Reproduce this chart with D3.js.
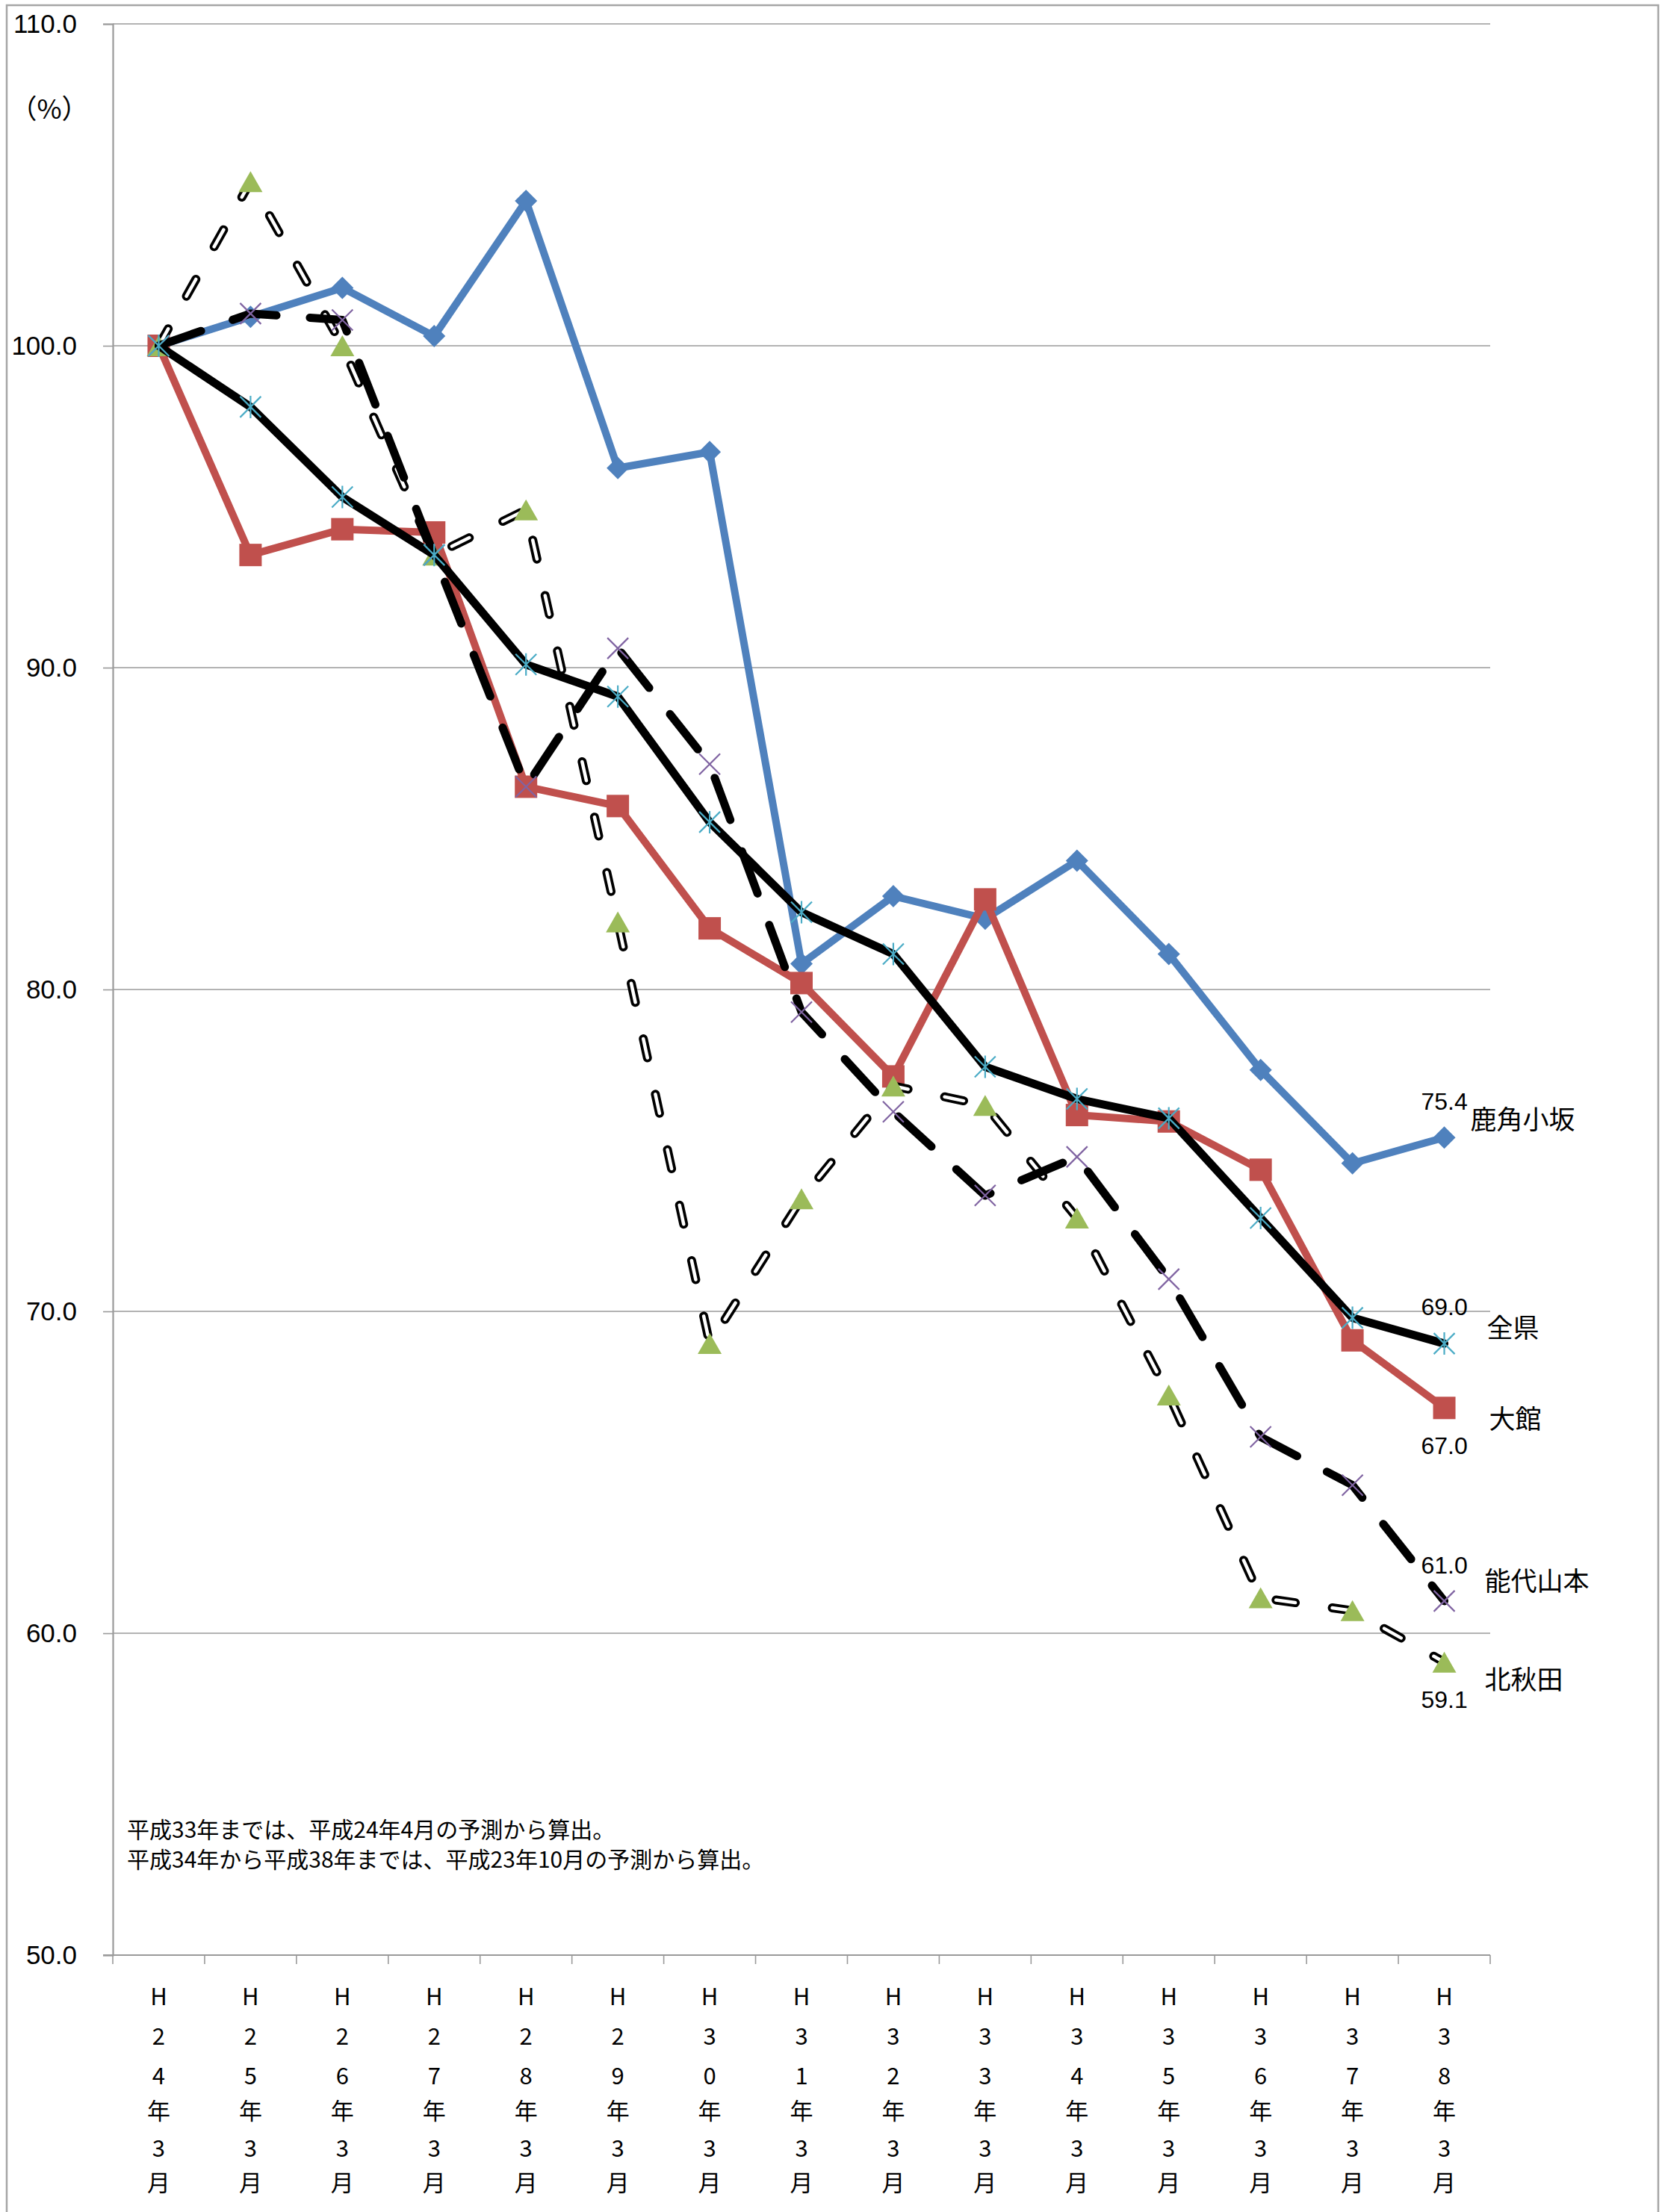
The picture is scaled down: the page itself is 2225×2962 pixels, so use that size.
<!DOCTYPE html>
<html>
<head>
<meta charset="utf-8">
<script src="https://cdn.jsdelivr.net/npm/d3@7/dist/d3.min.js"></script>
<style>
  body { margin: 0; background: #fff; }
  svg { display: block; }
</style>
</head>
<body>
<svg id="chart"></svg>
<script>
// ---- data ----
const categories = ["H24年3月", "H25年3月", "H26年3月", "H27年3月", "H28年3月", "H29年3月", "H30年3月",
  "H31年3月", "H32年3月", "H33年3月", "H34年3月", "H35年3月", "H36年3月", "H37年3月", "H38年3月"];

const kazunoKosaka = [100, 100.9, 101.8, 100.3, 104.5, 96.2, 96.7, 80.8, 82.9, 82.2, 84.0, 81.1, 77.5, 74.6, 75.4];
const odate        = [100, 93.5, 94.3, 94.2, 86.3, 85.7, 81.9, 80.2, 77.3, 82.8, 76.1, 75.9, 74.4, 69.1, 67.0];
const kitaAkita    = [100, 105.1, 100.0, 93.5, 94.9, 82.1, 69.0, 73.5, 77.0, 76.4, 72.9, 67.4, 61.1, 60.7, 59.1];
const noshiroYamamoto = [100, 101.0, 100.8, 93.5, 86.3, 90.6, 87.0, 79.3, 76.2, 73.6, 74.8, 71.0, 66.1, 64.6, 61.0];
const zenken       = [100, 98.1, 95.3, 93.5, 90.1, 89.1, 85.2, 82.4, 81.1, 77.6, 76.6, 76.0, 72.9, 69.8, 69.0];

const yTicks = [50, 60, 70, 80, 90, 100, 110];
const unitLabel = "（%）";
const notes = [
  "平成33年までは、平成24年4月の予測から算出。",
  "平成34年から平成38年までは、平成23年10月の予測から算出。"
];

// ---- layout ----
const W = 2225, H = 2962;
const plot = { left: 151, right: 1995, top: 32, bottom: 2618 };

const svg = d3.select("#chart").attr("width", W).attr("height", H);

// outer chart frame
svg.append("rect")
  .attr("x", 9).attr("y", 7).attr("width", 2211).attr("height", 2990)
  .attr("fill", "#fff").attr("stroke", "#a6a6a6").attr("stroke-width", 2.5);

const x = d3.scaleBand().domain(categories).range([plot.left, plot.right]);
const cx = c => x(c) + x.bandwidth() / 2;
const y = d3.scaleLinear().domain([50, 110]).range([plot.bottom, plot.top]);

// horizontal gridlines
svg.append("g").selectAll("line")
  .data(yTicks.filter(t => t !== 50))
  .join("line")
  .attr("x1", plot.left).attr("x2", plot.right)
  .attr("y1", d => y(d)).attr("y2", d => y(d))
  .attr("stroke", "#9a9a9a").attr("stroke-width", 1.6);

// y axis
const yAxis = svg.append("g")
  .attr("transform", `translate(${plot.left},0)`)
  .call(d3.axisLeft(y).tickValues(yTicks).tickFormat(d3.format(".1f")).tickSize(13).tickPadding(35));
yAxis.select(".domain").attr("stroke", "#9a9a9a").attr("stroke-width", 2.2);
yAxis.selectAll(".tick line").attr("stroke", "#9a9a9a").attr("stroke-width", 1.6);
yAxis.selectAll(".tick text")
  .attr("font-family", "'Liberation Sans', Arial, sans-serif")
  .attr("font-size", 35).attr("fill", "#000");

// x axis line and category boundary ticks
const xg = svg.append("g");
xg.append("line")
  .attr("x1", plot.left - 13).attr("x2", plot.right)
  .attr("y1", plot.bottom).attr("y2", plot.bottom)
  .attr("stroke", "#9a9a9a").attr("stroke-width", 2.2);
const boundaries = categories.map(c => x(c)).concat([x.range()[1]]);
xg.selectAll("line.tick")
  .data(boundaries)
  .join("line").attr("class", "tick")
  .attr("x1", d => d).attr("x2", d => d)
  .attr("y1", plot.bottom).attr("y2", plot.bottom + 12)
  .attr("stroke", "#9a9a9a").attr("stroke-width", 1.6);

// stacked (vertical) category labels
const rowY = [2674, 2727, 2780, 2827, 2877, 2923];
const xl = xg.selectAll("g.cat").data(categories).join("g").attr("class", "cat");
xl.each(function (c) {
  const chars = Array.from(c);
  d3.select(this).selectAll("text")
    .data(chars)
    .join("text")
    .attr("x", cx(c))
    .attr("y", (d, i) => rowY[i])
    .attr("dy", "0.35em")
    .attr("text-anchor", "middle")
    .attr("font-family", "'Noto Sans CJK JP', sans-serif")
    .attr("font-size", 31)
    .attr("fill", "#000")
    .text(d => d);
});

// unit label
svg.append("text")
  .attr("x", 66).attr("y", 146).attr("dy", "0.35em")
  .attr("text-anchor", "middle")
  .attr("font-family", "'Noto Sans CJK JP', sans-serif")
  .attr("font-size", 36).attr("fill", "#000")
  .text(unitLabel);

// notes
svg.append("g").selectAll("text")
  .data(notes)
  .join("text")
  .attr("x", 170)
  .attr("y", (d, i) => 2450 + i * 40)
  .attr("dy", "0.35em")
  .attr("font-family", "'Noto Sans CJK JP', sans-serif")
  .attr("font-size", 30)
  .attr("fill", "#000")
  .text(d => d);

// ---- marker shapes ----
const markers = {
  diamond: (g, color) => g.append("path")
    .attr("d", "M0,-15 L15,0 L0,15 L-15,0 Z").attr("fill", color),
  square: (g, color) => g.append("rect")
    .attr("x", -15).attr("y", -15).attr("width", 30).attr("height", 30).attr("fill", color),
  triangle: (g, color) => g.append("path")
    .attr("d", "M0,-14 L16,14 L-16,14 Z").attr("fill", color),
  star: (g, color) => g.append("path")
    .attr("d", "M-14,-14 L14,14 M-14,14 L14,-14 M0,-15 L0,15")
    .attr("stroke", color).attr("stroke-width", 2.2).attr("fill", "none"),
  cross: (g, color) => g.append("path")
    .attr("d", "M-14,-14 L14,14 M-14,14 L14,-14")
    .attr("stroke", color).attr("stroke-width", 2.2).attr("fill", "none")
};

// ---- series ----
const series = [
  { name: "鹿角小坂", values: kazunoKosaka, line: "#4f81bd", style: "solid", width: 10,
    marker: "diamond", markerColor: "#4f81bd", valueDy: -48, nameDx: 35, nameDy: -24 },
  { name: "大館", values: odate, line: "#c0504d", style: "solid", width: 10,
    marker: "square", markerColor: "#c0504d", valueDy: 50, nameDx: 60, nameDy: 15 },
  { name: "北秋田", values: kitaAkita, line: "#000", style: "double", width: 11,
    marker: "triangle", markerColor: "#9bbb59", valueDy: 50, nameDx: 54, nameDy: 24 },
  { name: "能代山本", values: noshiroYamamoto, line: "#000", style: "longdash", width: 11,
    marker: "cross", markerColor: "#8064a2", valueDy: -48, nameDx: 54, nameDy: -26 },
  { name: "全県", values: zenken, line: "#000", style: "solid", width: 11,
    marker: "star", markerColor: "#4bacc6", valueDy: -49, nameDx: 57, nameDy: -20 }
];

const lineGen = d3.line()
  .x((d, i) => cx(categories[i]))
  .y(d => y(d));

const layer = svg.append("g");
series.forEach(s => {
  const g = layer.append("g");
  const d = lineGen(s.values);
  if (s.style === "solid") {
    g.append("path").attr("d", d).attr("fill", "none")
      .attr("stroke", s.line).attr("stroke-width", s.width)
      .attr("stroke-linejoin", "round").attr("stroke-linecap", "round");
  } else if (s.style === "longdash") {
    g.append("path").attr("d", d).attr("fill", "none")
      .attr("stroke", s.line).attr("stroke-width", s.width)
      .attr("stroke-linejoin", "round").attr("stroke-linecap", "round")
      .attr("stroke-dasharray", "60 45");
  } else if (s.style === "double") {
    g.append("path").attr("d", d).attr("fill", "none")
      .attr("stroke", s.line).attr("stroke-width", 12)
      .attr("stroke-linejoin", "round").attr("stroke-linecap", "round")
      .attr("stroke-dasharray", "26 50");
    g.append("path").attr("d", d).attr("fill", "none")
      .attr("stroke", "#fff").attr("stroke-width", 4.5)
      .attr("stroke-linejoin", "round").attr("stroke-linecap", "round")
      .attr("stroke-dasharray", "26 50");
  }
  s.values.forEach((v, i) => {
    const mg = g.append("g").attr("transform", `translate(${cx(categories[i])},${y(v)})`);
    markers[s.marker](mg, s.markerColor);
  });
});

// end-of-line labels: value and series name
const lastCat = categories[categories.length - 1];
const lx = cx(lastCat);
const labels = svg.append("g");
series.forEach(s => {
  const v = s.values[s.values.length - 1];
  const py = y(v);
  labels.append("text")
    .attr("x", lx).attr("y", py + s.valueDy).attr("dy", "0.35em")
    .attr("text-anchor", "middle")
    .attr("font-family", "'Liberation Sans', Arial, sans-serif")
    .attr("font-size", 32).attr("fill", "#000")
    .text(d3.format(".1f")(v));
  labels.append("text")
    .attr("x", lx + s.nameDx).attr("y", py + s.nameDy).attr("dy", "0.35em")
    .attr("text-anchor", "start")
    .attr("font-family", "'Noto Sans CJK JP', sans-serif")
    .attr("font-size", 35).attr("fill", "#000")
    .text(s.name);
});
</script>
</body>
</html>
